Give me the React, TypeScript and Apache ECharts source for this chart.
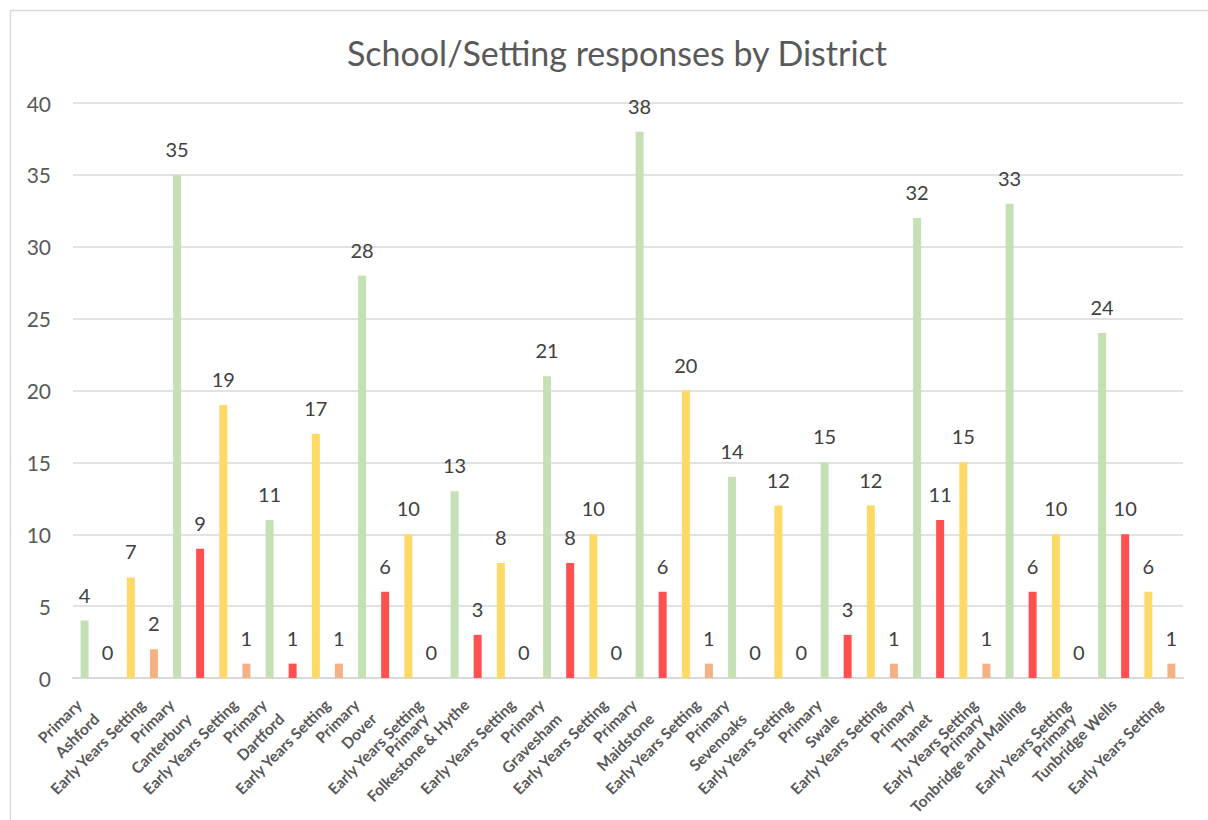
import React, { useEffect, useRef } from "react";
import * as echarts from "echarts";

// Districts and the response counts for each school/setting type
const districts = [
  "Ashford",
  "Canterbury",
  "Dartford",
  "Dover",
  "Folkestone & Hythe",
  "Gravesham",
  "Maidstone",
  "Sevenoaks",
  "Swale",
  "Thanet",
  "Tonbridge and Malling",
  "Tunbridge Wells",
];
const settingTypes = ["Primary", "Early Years Setting"];

const primaryFirst = [4, 35, 11, 28, 13, 21, 38, 14, 15, 32, 33, 24];
const primarySecond = [0, 9, 1, 6, 3, 8, 6, 0, 3, 11, 6, 10];
const earlyYearsFirst = [7, 19, 17, 10, 8, 10, 20, 12, 12, 15, 10, 6];
const earlyYearsSecond = [2, 1, 1, 0, 0, 0, 1, 0, 1, 1, 0, 1];

const yTicks = [0, 5, 10, 15, 20, 25, 30, 35, 40];

const COLORS = {
  primaryFirst: "#C5E0B4",
  primarySecond: "#FF5050",
  earlyFirst: "#FFD966",
  earlySecond: "#F4B183",
};

const FONT = "Lato, 'Open Sans', sans-serif";

export default function App() {
  const ref = useRef<HTMLDivElement>(null);

  useEffect(() => {
    document.body.style.margin = "0";
    if (!ref.current) return;
    const chart = echarts.init(ref.current, undefined, { renderer: "svg" });

    // one category per district & setting type
    const categories: string[] = [];
    const firstData: any[] = [];
    const secondData: any[] = [];
    districts.forEach((d, i) => {
      categories.push(`${d} ${settingTypes[0]}`);
      firstData.push({ value: primaryFirst[i], itemStyle: { color: COLORS.primaryFirst } });
      secondData.push({ value: primarySecond[i], itemStyle: { color: COLORS.primarySecond } });
      categories.push(`${d} ${settingTypes[1]}`);
      firstData.push({ value: earlyYearsFirst[i], itemStyle: { color: COLORS.earlyFirst } });
      secondData.push({ value: earlyYearsSecond[i], itemStyle: { color: COLORS.earlySecond } });
    });

    // fine-grained label axes: SUB points per category so the two-level
    // labels can sit where the stacked rotated layout puts them
    const SUB = 8;
    const nPoints = categories.length * SUB + 1;
    const rowTop: string[] = new Array(nPoints).fill("");
    const rowLow: string[] = new Array(nPoints).fill("");
    districts.forEach((d, i) => {
      const pIdx = 2 * i * SUB + SUB / 2;
      const eIdx = pIdx + SUB;
      rowTop[eIdx] = settingTypes[1];
      if (d.length > 12) {
        rowTop[pIdx] = d;
        rowLow[pIdx - 7] = settingTypes[0];
      } else {
        rowTop[pIdx - 3] = settingTypes[0];
        rowLow[pIdx] = d;
      }
    });

    const labelAxis = (data: string[], margin: number) => ({
      type: "category",
      data,
      boundaryGap: false,
      position: "bottom",
      axisLine: { show: false },
      axisTick: { show: false },
      splitLine: { show: false },
      axisLabel: {
        interval: 0,
        rotate: 45,
        margin,
        color: "#595959",
        fontFamily: FONT,
        fontWeight: "bold",
        fontSize: 15.5,
      },
    });

    const labelStyle = {
      show: true,
      position: "top",
      distance: 16,
      color: "#404040",
      fontFamily: FONT,
      fontSize: 20,
    };

    chart.setOption({
      animation: false,
      backgroundColor: "#ffffff",
      title: {
        text: "School/Setting responses by District",
        left: 612,
        textAlign: "center",
        top: 30,
        textStyle: {
          color: "#595959",
          fontFamily: FONT,
          fontWeight: "normal",
          fontSize: 34,
        },
      },
      grid: { left: 73, right: 25, top: 103, bottom: 142, containLabel: false },
      xAxis: [
        {
          type: "category",
          data: categories,
          axisLine: { lineStyle: { color: "#D9D9D9", width: 2 } },
          axisTick: { show: false },
          axisLabel: { show: false },
        },
        labelAxis(rowTop, 24),
        labelAxis(rowLow, 38),
      ],
      yAxis: {
        type: "value",
        min: yTicks[0],
        max: yTicks[yTicks.length - 1],
        interval: yTicks[1] - yTicks[0],
        axisLine: { show: false },
        axisTick: { show: false },
        splitLine: { lineStyle: { color: "#D9D9D9", width: 1.5 } },
        axisLabel: {
          margin: 22,
          color: "#595959",
          fontFamily: FONT,
          fontSize: 21,
        },
      },
      series: [
        {
          name: "first",
          type: "bar",
          data: firstData,
          barWidth: 8,
          barGap: "188%",
          label: labelStyle,
        },
        {
          name: "second",
          type: "bar",
          data: secondData,
          barWidth: 8,
          barGap: "188%",
          label: labelStyle,
        },
      ],
      graphic: [
        {
          type: "rect",
          shape: { x: 10.5, y: 10.5, width: 1260, height: 900 },
          style: { fill: "none", stroke: "#D9D9D9", lineWidth: 1.5 },
          silent: true,
        },
      ],
    });

    return () => chart.dispose();
  }, []);

  return <div ref={ref} style={{ width: 1208, height: 820 }} />;
}
